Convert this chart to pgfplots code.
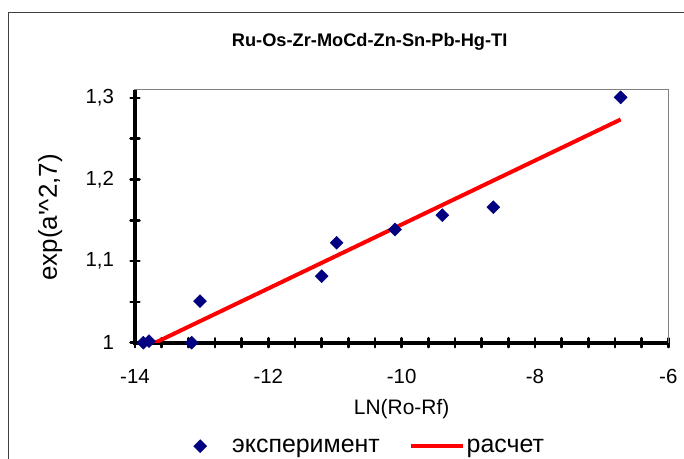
\documentclass[border=0pt]{standalone}
\usepackage{fontspec}
\setmainfont{Liberation Sans}[Ligatures=TeXOff]
\usepackage{pgfplots}
\pgfplotsset{compat=1.18}
\definecolor{navyc}{RGB}{0,0,128}
\pgfplotsset{
  diamleg/.style={legend image code/.code={\path[draw=none] (0bp,0bp) -- (40bp,0bp);\path[mark repeat=2,mark phase=2,##1,draw=none] plot coordinates {(0bp,0bp) (10bp,0bp) (34bp,0bp)};}},
  lineleg/.style={legend image code/.code={\draw[##1] (0bp,0bp) -- (52bp,0bp);}},
}
\begin{document}
\begin{tikzpicture}
\useasboundingbox (0bp,0bp) rectangle (684bp,459bp);
\draw[black!75, line width=1.2bp] (8.5bp,-10bp) -- (8.5bp,446.5bp) -- (700bp,446.5bp);
\begin{axis}[
  at={(135bp,116.3bp)}, anchor=south west,
  scale only axis, width=533.3bp, height=253bp,
  xmin=-14, xmax=-6, ymin=1, ymax=1.31,
  clip mode=individual,
  axis line style={draw=gray, line width=1.5bp},
  xtick={-14,-12,-10,-8,-6}, xticklabels={-14,-12,-10,-8,-6},
  ytick={1,1.1,1.2,1.3}, yticklabels={1,{1,1},{1,2},{1,3}},
  minor x tick num=4, minor y tick num=1,
  xtick pos=bottom, ytick pos=left,
  tick align=center,
  major tick length=9bp, minor tick length=9bp,
  tick style={black, line width=2.5bp, line cap=round},
  tick label style={font=\fontsize{20.5}{20.5}\selectfont},
  xticklabel style={anchor=center, yshift=-29bp},
  yticklabel style={anchor=east, xshift=-13bp},
  title={Ru-Os-Zr-MoCd-Zn-Sn-Pb-Hg-TI},
  title style={at={(axis description cs:0.44,1.167)}, anchor=center, font=\bfseries\fontsize{18.3}{18.3}\selectfont},
  xlabel={LN(Ro-Rf)},
  xlabel style={at={(axis description cs:0.5,-0.264)}, anchor=center, font=\fontsize{21}{21}\selectfont},
  ylabel={exp(a'\textasciicircum 2,7)},
  ylabel style={at={(axis description cs:-0.159,0.495)}, anchor=center, font=\fontsize{26}{26}\selectfont},
  legend columns=2,
  legend style={at={(axis description cs:0.1031,-0.409)}, anchor=west, draw=none, fill=none,
    font=\fontsize{25}{25}\selectfont, inner sep=0pt,
    /tikz/every even column/.append style={column sep=27bp}},
]
\draw[black, line width=4bp] (rel axis cs:0,1) -- (rel axis cs:0,0) -- (rel axis cs:1,0);
\addplot[red, line width=4bp, no marks, forget plot] coordinates {(-13.875,0.993) (-6.715,1.2735)};
\addplot[only marks, mark=square*, mark size=4.6bp, mark options={rotate=45, fill=navyc, draw=navyc}, diamleg]
  coordinates {
  (-13.875,1.0) (-13.79,1.002) (-13.15,1.0) (-13.025,1.051) (-11.2,1.0815)
  (-10.975,1.1224) (-10.1,1.1387) (-9.39,1.1562) (-8.625,1.166) (-6.715,1.3006)
  };
\addlegendentry{эксперимент}
\addlegendimage{red, line width=4bp, lineleg}
\addlegendentry{расчет}
\end{axis}
\end{tikzpicture}
\end{document}
